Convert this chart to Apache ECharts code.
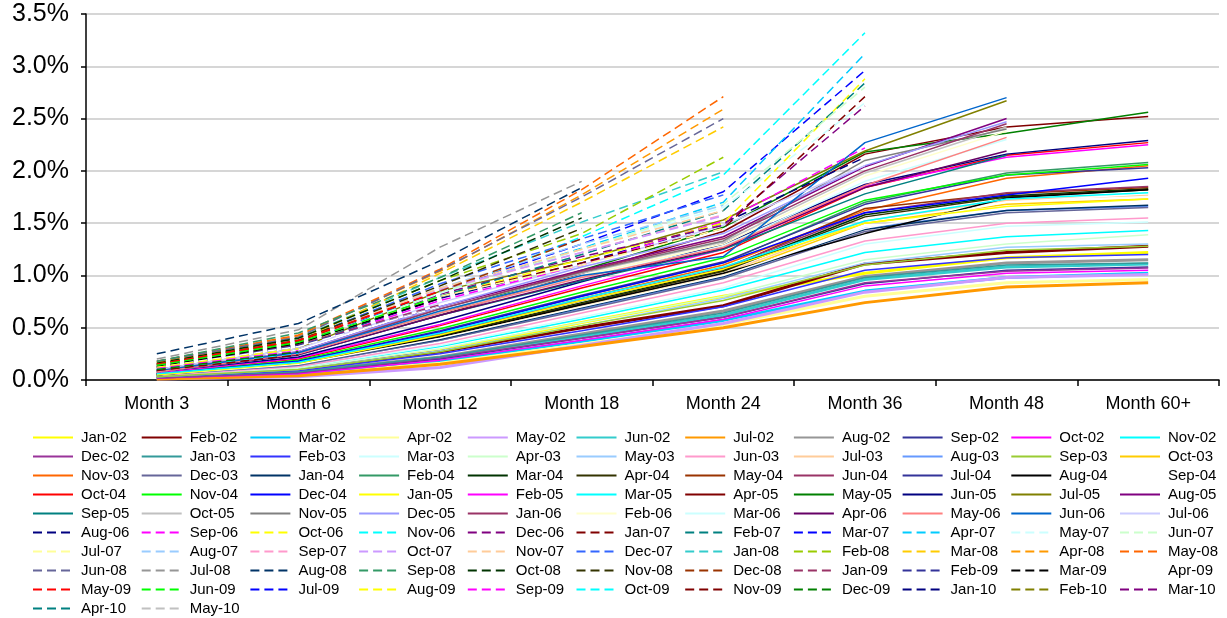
<!DOCTYPE html>
<html>
<head>
<meta charset="utf-8">
<script src="https://cdn.jsdelivr.net/npm/echarts@6/dist/echarts.min.js"></script>
<style>
html,body{margin:0;padding:0;background:#fff;}
#chart{width:1227px;height:618px;}
</style>
</head>
<body>
<div id="chart"></div>
<script>
// ---- data ----
const categories = ['Month 3', 'Month 6', 'Month 12', 'Month 18', 'Month 24', 'Month 36', 'Month 48', 'Month 60+'];
const yTicks = { min: 0, max: 3.5, step: 0.5 };
const vintages = [
  'Jan-02','Feb-02','Mar-02','Apr-02','May-02','Jun-02','Jul-02','Aug-02','Sep-02','Oct-02','Nov-02',
  'Dec-02','Jan-03','Feb-03','Mar-03','Apr-03','May-03','Jun-03','Jul-03','Aug-03','Sep-03','Oct-03',
  'Nov-03','Dec-03','Jan-04','Feb-04','Mar-04','Apr-04','May-04','Jun-04','Jul-04','Aug-04','Sep-04',
  'Oct-04','Nov-04','Dec-04','Jan-05','Feb-05','Mar-05','Apr-05','May-05','Jun-05','Jul-05','Aug-05',
  'Sep-05','Oct-05','Nov-05','Dec-05','Jan-06','Feb-06','Mar-06','Apr-06','May-06','Jun-06','Jul-06',
  'Aug-06','Sep-06','Oct-06','Nov-06','Dec-06','Jan-07','Feb-07','Mar-07','Apr-07','May-07','Jun-07',
  'Jul-07','Aug-07','Sep-07','Oct-07','Nov-07','Dec-07','Jan-08','Feb-08','Mar-08','Apr-08','May-08',
  'Jun-08','Jul-08','Aug-08','Sep-08','Oct-08','Nov-08','Dec-08','Jan-09','Feb-09','Mar-09','Apr-09',
  'May-09','Jun-09','Jul-09','Aug-09','Sep-09','Oct-09','Nov-09','Dec-09','Jan-10','Feb-10','Mar-10',
  'Apr-10','May-10'
];
// cumulative loss rate (%) per vintage, by month on book
const lossRates = [
  [0.03,0.10,0.28,0.55,0.80,1.02,1.17,1.22], // Jan-02
  [0.04,0.10,0.27,0.50,0.71,1.11,1.22,1.28], // Feb-02
  [0.02,0.06,0.18,0.37,0.57,0.85,0.98,1.02], // Mar-02
  [0.02,0.05,0.16,0.34,0.53,0.80,0.93,0.96], // Apr-02
  [0.01,0.03,0.12,0.33,0.54,0.84,0.98,1.01], // May-02
  [0.02,0.06,0.20,0.42,0.62,0.96,1.08,1.11], // Jun-02
  [0.01,0.04,0.15,0.32,0.50,0.74,0.89,0.93], // Jul-02
  [0.03,0.08,0.22,0.44,0.66,0.99,1.12,1.15], // Aug-02
  [0.02,0.07,0.20,0.40,0.60,0.92,1.05,1.08], // Sep-02
  [0.02,0.06,0.19,0.38,0.58,0.90,1.02,1.05], // Oct-02
  [0.04,0.12,0.32,0.58,0.86,1.22,1.37,1.43], // Nov-02
  [0.02,0.07,0.21,0.40,0.60,0.93,1.04,1.07], // Dec-02
  [0.03,0.08,0.22,0.43,0.64,0.98,1.10,1.12], // Jan-03
  [0.03,0.09,0.25,0.47,0.70,1.05,1.17,1.20], // Feb-03
  [0.04,0.12,0.33,0.60,0.88,1.30,1.47,1.51], // Mar-03
  [0.04,0.11,0.30,0.55,0.80,1.15,1.30,1.39], // Apr-03
  [0.03,0.10,0.28,0.52,0.78,1.12,1.27,1.30], // May-03
  [0.04,0.13,0.35,0.64,0.93,1.33,1.50,1.55], // Jun-03
  [0.05,0.15,0.40,0.72,1.02,1.52,1.72,1.77], // Jul-03
  [0.05,0.14,0.38,0.68,0.98,1.45,1.62,1.66], // Aug-03
  [0.03,0.10,0.27,0.52,0.76,1.10,1.24,1.28], // Sep-03
  [0.05,0.15,0.40,0.70,1.00,1.50,1.68,1.73], // Oct-03
  [0.06,0.17,0.44,0.78,1.10,1.62,1.93,2.05], // Nov-03
  [0.05,0.14,0.38,0.67,0.97,1.42,1.60,1.65], // Dec-03
  [0.05,0.15,0.39,0.69,0.99,1.44,1.62,1.67], // Jan-04
  [0.06,0.18,0.46,0.80,1.12,1.70,1.98,2.08], // Feb-04
  [0.05,0.16,0.42,0.74,1.05,1.58,1.76,1.83], // Mar-04
  [0.05,0.16,0.42,0.73,1.04,1.56,1.75,1.82], // Apr-04
  [0.06,0.17,0.44,0.76,1.06,1.64,1.78,1.84], // May-04
  [0.06,0.17,0.44,0.76,1.07,1.60,1.79,1.85], // Jun-04
  [0.06,0.18,0.47,0.81,1.13,1.68,1.96,2.03], // Jul-04
  [0.05,0.16,0.41,0.72,1.02,1.40,1.74,1.82], // Aug-04
  [0.05,0.15,0.40,0.70,1.00,1.45,1.70,1.78], // Sep-04
  [0.07,0.20,0.52,0.88,1.22,1.84,2.15,2.27], // Oct-04
  [0.06,0.19,0.49,0.84,1.17,1.72,1.96,2.06], // Nov-04
  [0.06,0.18,0.46,0.80,1.12,1.60,1.77,1.93], // Dec-04
  [0.05,0.16,0.43,0.76,1.06,1.50,1.66,1.73], // Jan-05
  [0.07,0.21,0.53,0.90,1.25,1.85,2.13,2.25], // Feb-05
  [0.06,0.17,0.45,0.78,1.08,1.52,1.73,1.79], // Mar-05
  [0.09,0.25,0.62,1.02,1.42,2.16,2.42,2.52], // Apr-05
  [0.09,0.26,0.64,1.05,1.46,2.18,2.36,2.56], // May-05
  [0.08,0.22,0.56,0.94,1.30,1.87,2.16,2.29], // Jun-05
  [0.10,0.30,0.85,1.15,1.53,2.19,2.67],      // Jul-05
  [0.09,0.27,0.70,1.05,1.37,2.04,2.50],      // Aug-05
  [0.08,0.24,0.62,0.95,1.25,1.78,2.15],      // Sep-05
  [0.09,0.26,0.68,1.02,1.32,1.98,2.42],      // Oct-05
  [0.09,0.26,0.68,1.03,1.33,2.10,2.40],      // Nov-05
  [0.09,0.27,0.70,1.08,1.40,2.05,2.47],      // Dec-05
  [0.09,0.26,0.68,1.04,1.35,2.00,2.45],      // Jan-06
  [0.08,0.25,0.66,1.00,1.30,1.95,2.38],      // Feb-06
  [0.08,0.24,0.64,0.98,1.28,1.90,2.30],      // Mar-06
  [0.08,0.24,0.62,0.96,1.26,1.84,2.19],      // Apr-06
  [0.08,0.25,0.64,0.98,1.27,1.86,2.32],      // May-06
  [0.09,0.26,0.66,1.00,1.18,2.27,2.70],      // Jun-06
  [0.10,0.30,0.74,1.10,1.48,2.05],           // Jul-06
  [0.12,0.33,0.78,1.12,1.50,2.13],           // Aug-06
  [0.12,0.32,0.76,1.10,1.52,2.22],           // Sep-06
  [0.13,0.34,0.80,1.15,1.50,2.88],           // Oct-06
  [0.12,0.33,0.82,1.37,1.96,3.32],           // Nov-06
  [0.13,0.34,0.82,1.18,1.48,2.62],           // Dec-06
  [0.12,0.33,0.80,1.12,1.45,2.71],           // Jan-07
  [0.12,0.32,0.80,1.20,1.62,2.84],           // Feb-07
  [0.13,0.34,0.85,1.30,1.80,2.96],           // Mar-07
  [0.12,0.34,0.84,1.26,1.70,3.12],           // Apr-07
  [0.12,0.33,0.83,1.25,1.65,2.65],           // May-07
  [0.12,0.33,0.84,1.25,1.68,2.80],           // Jun-07
  [0.12,0.34,0.80,1.10,1.45],                // Jul-07
  [0.13,0.36,0.88,1.30,1.67],                // Aug-07
  [0.13,0.36,0.86,1.22,1.58],                // Sep-07
  [0.13,0.36,0.87,1.22,1.57],                // Oct-07
  [0.13,0.36,0.88,1.25,1.62],                // Nov-07
  [0.14,0.38,0.92,1.35,1.77],                // Dec-07
  [0.15,0.40,0.98,1.51,1.99],                // Jan-08
  [0.15,0.40,0.95,1.40,2.13],                // Feb-08
  [0.17,0.37,1.02,1.70,2.42],                // Mar-08
  [0.17,0.42,1.04,1.77,2.59],                // Apr-08
  [0.18,0.43,1.06,1.82,2.71],                // May-08
  [0.18,0.41,1.05,1.75,2.50],                // Jun-08
  [0.20,0.48,1.27,1.90],                     // Jul-08
  [0.25,0.54,1.14,1.84],                     // Aug-08
  [0.18,0.45,0.98,1.60],                     // Sep-08
  [0.16,0.40,0.95,1.55],                     // Oct-08
  [0.15,0.38,0.90,1.45],                     // Nov-08
  [0.15,0.37,0.85,1.35],                     // Dec-08
  [0.12,0.34,0.72],                          // Jan-09
  [0.12,0.33,0.70],                          // Feb-09
  [0.13,0.35,0.78],                          // Mar-09
  [0.12,0.32,0.70],                          // Apr-09
  [0.15,0.38,0.85],                          // May-09
  [0.14,0.36,0.80],                          // Jun-09
  [0.10,0.26],                               // Jul-09
  [0.12,0.30],                               // Aug-09
  [0.11,0.28],                               // Sep-09
  [0.10,0.25],                               // Oct-09
  [0.09,0.24],                               // Nov-09
  [0.10,0.27],                               // Dec-09
  [0.08],                                    // Jan-10
  [0.07],                                    // Feb-10
  [0.06],                                    // Mar-10
  [],                                        // Apr-10
  []                                         // May-10
];

// ---- styles ----
const colors = [
  '#FFFF00','#800000','#00CCFF','#FFFF99','#CC99FF','#33CCCC','#FF9900','#969696','#333399','#FF00FF','#00FFFF',
  '#993399','#339999','#3333FF','#CCFFFF','#CCFFCC','#99CCFF','#FF99CC','#FFCC99','#6699FF','#99CC33','#FFCC00',
  '#FF6600','#666699','#003366','#339966','#003300','#333300','#993300','#993366','#333399','#000000','#FFFFFF',
  '#FF0000','#00FF00','#0000FF','#FFFF00','#FF00FF','#00FFFF','#800000','#008000','#000080','#808000','#800080',
  '#008080','#C0C0C0','#808080','#9999FF','#993366','#FFFFCC','#CCFFFF','#660066','#FF8080','#0066CC','#CCCCFF',
  '#000080','#FF00FF','#FFFF00','#00FFFF','#800080','#800000','#008080','#0000FF','#00CCFF','#CCFFFF','#CCFFCC',
  '#FFFF99','#99CCFF','#FF99CC','#CC99FF','#FFCC99','#3366FF','#33CCCC','#99CC00','#FFCC00','#FF9900','#FF6600',
  '#666699','#969696','#003366','#339966','#003300','#333300','#993300','#993366','#333399','#000000','#FFFFFF',
  '#FF0000','#00FF00','#0000FF','#FFFF00','#FF00FF','#00FFFF','#800000','#008000','#000080','#808000','#800080',
  '#008080','#C0C0C0'
];
const thickCount = 8;          // first 8 vintages drawn heavy
const firstDashed = 55;        // from Aug-06 on, dashed
const FONT = '"Liberation Sans", Arial, sans-serif';

const series = vintages.map((name, i) => ({
  name: name,
  type: 'line',
  data: lossRates[i],
  symbol: 'none',
  showSymbol: false,
  smooth: false,
  silent: true,
  lineStyle: {
    color: colors[i],
    width: i < thickCount ? 3 : 1.5,
    type: i >= firstDashed ? [9, 5] : 'solid',
    cap: 'butt'
  },
  itemStyle: { color: colors[i] },
  emphasis: { disabled: true }
}));

const nCols = 11;
const legends = [];
for (let c = 0; c < nCols; c++) {
  const names = vintages.filter((_, i) => i % nCols === c);
  legends.push({
    orient: 'vertical',
    left: 32 + c * 108.7,
    top: 430,
    height: 260,
    padding: 0,
    itemGap: 4,
    itemWidth: 40,
    itemHeight: 15,
    selectedMode: false,
    itemStyle: { opacity: 0, borderWidth: 0 },
    data: names,
    textStyle: { fontFamily: FONT, fontSize: 15, color: '#000', lineHeight: 15, padding: [0, 0, 0, 3] }
  });
}

const chart = echarts.init(document.getElementById('chart'), null, { renderer: 'canvas' });
chart.setOption({
  animation: false,
  backgroundColor: '#fff',
  grid: { left: 86, right: 8, top: 14, bottom: 238, containLabel: false },
  legend: legends,
  xAxis: {
    type: 'category',
    data: categories,
    boundaryGap: true,
    axisLine: { lineStyle: { color: '#000', width: 1.5 } },
    axisTick: { show: true, length: 6, lineStyle: { color: '#000', width: 1.5 } },
    axisLabel: { fontFamily: FONT, fontSize: 18, color: '#000', margin: 15 },
    splitLine: { show: false }
  },
  yAxis: {
    type: 'value',
    min: yTicks.min,
    max: yTicks.max,
    interval: yTicks.step,
    axisLine: { show: true, lineStyle: { color: '#000', width: 1.5 } },
    axisTick: { show: true, length: 5, lineStyle: { color: '#000', width: 1.5 } },
    axisLabel: { fontFamily: FONT, fontSize: 25, color: '#000', margin: 17,
      formatter: v => v.toFixed(1) + '%' },
    splitLine: { show: true, lineStyle: { color: '#c8c8c8', width: 1.5 } }
  },
  series: series
});
</script>
</body>
</html>
